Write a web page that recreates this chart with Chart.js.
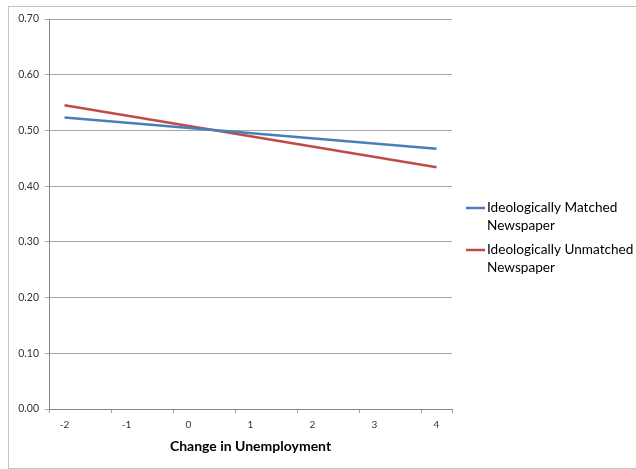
<!DOCTYPE html>
<html>
<head>
<meta charset="utf-8">
<script src="https://cdn.jsdelivr.net/npm/chart.js@4.4.1/dist/chart.umd.min.js"></script>
<style>
  html, body { margin: 0; padding: 0; background: #ffffff; }
  #wrap { position: relative; width: 636px; height: 469px; }
</style>
</head>
<body>
<div id="wrap"><canvas id="chart" width="636" height="469"></canvas></div>
<script>
// Change in unemployment (x) at the two ends of each fitted line
const unemploymentChange = [-2, 4];
// Predicted values for each newspaper group
const matchedValues = [0.523, 0.467];
const unmatchedValues = [0.545, 0.434];
const seriesNames = ['Ideologically Matched Newspaper', 'Ideologically Unmatched Newspaper'];
// Axis labels and ranges
const xTickLabels = ['-2', '-1', '0', '1', '2', '3', '4'];
const xAxisTitle = 'Change in Unemployment';
const yMin = 0, yMax = 0.7, yStep = 0.1;

const FONT = 'Lato, "Open Sans", "Liberation Sans", sans-serif';
const toPoints = (xs, ys) => xs.map((x, i) => ({ x: x, y: ys[i] }));

// Outer frame around the whole chart
const framePlugin = {
  id: 'frame',
  beforeDraw(chart) {
    const c = chart.ctx;
    c.save();
    c.fillStyle = '#ffffff';
    c.fillRect(0, 0, chart.width, chart.height);
    c.strokeStyle = '#c4c4c4';
    c.lineWidth = 1;
    c.strokeRect(8.5, 6.5, chart.width + 10, chart.height - 7);
    c.restore();
  }
};

// Legend on the right: the last word of each name goes on its own line
const sideLegend = {
  id: 'sideLegend',
  afterDraw(chart) {
    const c = chart.ctx;
    const x0 = 466, lineLen = 19, textX = 487, lh = 17.5;
    let y = 208;
    c.save();
    c.font = '13.6px ' + FONT;
    c.textBaseline = 'middle';
    c.textAlign = 'left';
    chart.data.datasets.forEach(ds => {
      const cut = ds.label.lastIndexOf(' ');
      const lines = [ds.label.slice(0, cut), ds.label.slice(cut + 1)];
      c.strokeStyle = ds.borderColor;
      c.lineWidth = 2.5;
      c.beginPath();
      c.moveTo(x0, y);
      c.lineTo(x0 + lineLen, y);
      c.stroke();
      c.fillStyle = '#000000';
      lines.forEach((ln, i) => c.fillText(ln, textX, y + i * lh));
      y += lines.length * lh + 7;
    });
    c.restore();
  }
};

new Chart(document.getElementById('chart'), {
  type: 'line',
  data: {
    datasets: [
      {
        label: seriesNames[0],
        data: toPoints(unemploymentChange, matchedValues),
        borderColor: '#4a7ebb',
        borderWidth: 2.5,
        pointRadius: 0,
        tension: 0
      },
      {
        label: seriesNames[1],
        data: toPoints(unemploymentChange, unmatchedValues),
        borderColor: '#be4b48',
        borderWidth: 2.5,
        pointRadius: 0,
        tension: 0
      }
    ]
  },
  options: {
    responsive: false,
    animation: false,
    events: [],
    layout: { padding: { left: 0, right: 184, top: 19, bottom: 0 } },
    plugins: { legend: { display: false }, tooltip: { enabled: false } },
    scales: {
      x: {
        type: 'linear',
        min: -2.25,
        max: 4.25,
        afterBuildTicks(scale) {
          const ticks = [];
          xTickLabels.forEach(l => {
            const v = Number(l);
            ticks.push({ value: v - 0.25 });
            ticks.push({ value: v });
          });
          ticks.push({ value: 4.25 });
          scale.ticks = ticks;
        },
        afterFit(scale) { scale.height = 60; },
        ticks: {
          autoSkip: false,
          maxRotation: 0,
          padding: 6,
          color: '#333333',
          font: { family: FONT, size: 10 },
          callback(value) {
            const s = String(value);
            return xTickLabels.includes(s) ? s : '';
          }
        },
        grid: {
          drawOnChartArea: false,
          tickLength: 4,
          tickColor(ctx) {
            return Number.isInteger(ctx.tick.value) ? 'rgba(0,0,0,0)' : '#a0a0a0';
          }
        },
        border: { color: '#868686', width: 1 },
        title: {
          display: true,
          text: xAxisTitle,
          color: '#000000',
          font: { family: FONT, size: 14, weight: 'bold' },
          padding: { top: 4, bottom: 14 }
        }
      },
      y: {
        min: yMin,
        max: yMax,
        afterFit(scale) { scale.width = 49; },
        ticks: {
          stepSize: yStep,
          padding: 6,
          color: '#333333',
          font: { family: FONT, size: 10.5 },
          callback(value) { return Number(value).toFixed(2); }
        },
        grid: {
          color: '#a6a6a6',
          lineWidth: 1,
          tickLength: 4
        },
        border: { color: '#868686', width: 1 }
      }
    }
  },
  plugins: [framePlugin, sideLegend]
});
</script>
</body>
</html>
